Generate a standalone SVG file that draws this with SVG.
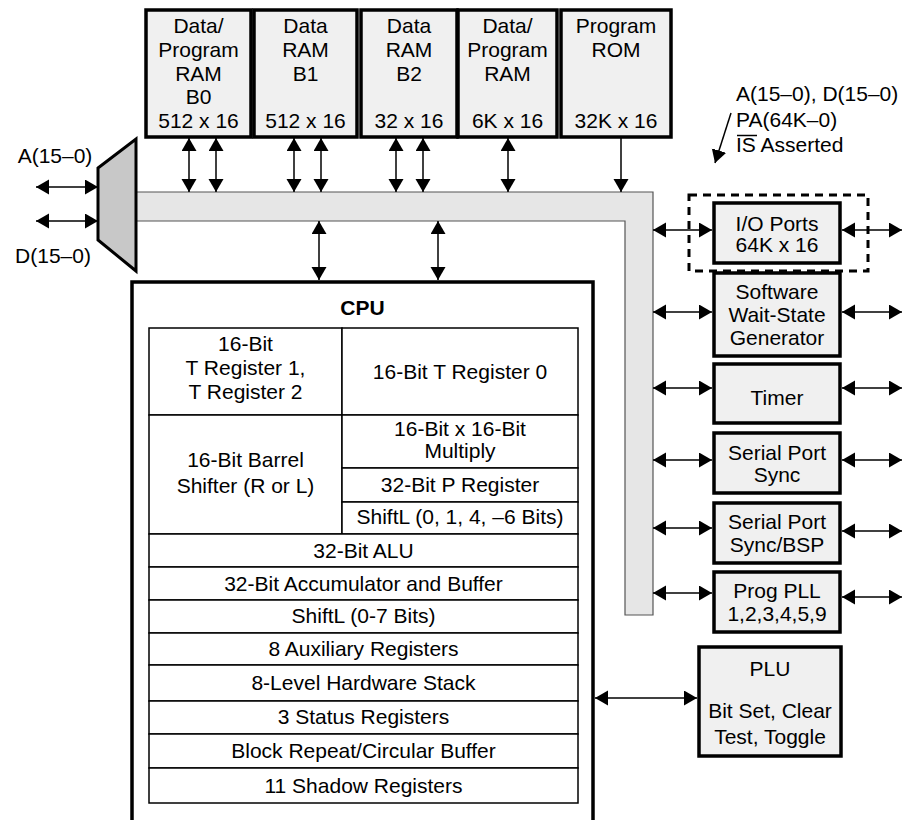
<svg xmlns="http://www.w3.org/2000/svg" width="907" height="820" viewBox="0 0 907 820">
<style>
text{font-family:"Liberation Sans",Arial,Helvetica,sans-serif;font-size:21px;fill:#000;text-anchor:middle}
.box{fill:#f0f0f0;stroke:#000;stroke-width:3.5}
.cell{fill:#fff;stroke:#000;stroke-width:1.5}
.ln{stroke:#000;stroke-width:1.5;fill:none}
.lt{text-anchor:start}
</style>
<defs>
<marker id="ah" markerUnits="userSpaceOnUse" markerWidth="16" markerHeight="16" refX="13" refY="7.5" orient="auto-start-reverse" viewBox="0 0 16 16">
<path d="M0,0 L13,7.5 L0,15 z" fill="#000"/>
</marker>
</defs>
<rect width="907" height="820" fill="#fff"/>

<g id="bus">
<path d="M136,192 L653,192 L653,615 L625,615 L625,221 L136,221" fill="#e6e6e6" stroke="#555" stroke-width="1.2"/>
</g>
<g id="mux">
<polygon points="98,168 136,139 136,271 98,240" fill="#c8c8c8" stroke="#000" stroke-width="3"/>
</g>
<g id="ext-labels">
<text x="55" y="163">A(15–0)</text>
<text x="53" y="263">D(15–0)</text>
</g>

<g id="ram-b0">
<rect class="box" x="146" y="10" width="105" height="127"/>
<text x="198.5" y="33">Data/</text><text x="198.5" y="57">Program</text><text x="198.5" y="81">RAM</text><text x="198.5" y="104">B0</text><text x="198.5" y="128">512 x 16</text>
</g>
<g id="ram-b1">
<rect class="box" x="254" y="10" width="103" height="127"/>
<text x="305.5" y="33">Data</text><text x="305.5" y="57">RAM</text><text x="305.5" y="81">B1</text><text x="305.5" y="128">512 x 16</text>
</g>
<g id="ram-b2">
<rect class="box" x="361" y="10" width="96" height="127"/>
<text x="409" y="33">Data</text><text x="409" y="57">RAM</text><text x="409" y="81">B2</text><text x="409" y="128">32 x 16</text>
</g>
<g id="ram-6k">
<rect class="box" x="458" y="10" width="99" height="127"/>
<text x="507.5" y="33">Data/</text><text x="507.5" y="57">Program</text><text x="507.5" y="81">RAM</text><text x="507.5" y="128">6K x 16</text>
</g>
<g id="rom">
<rect class="box" x="561" y="10" width="110" height="127"/>
<text x="616" y="33">Program</text><text x="616" y="57">ROM</text><text x="616" y="128">32K x 16</text>
</g>

<g id="annotation">
<text class="lt" x="736" y="101">A(15–0), D(15–0)</text>
<text class="lt" x="736" y="127">PA(64K–0)</text>
<text class="lt" x="736" y="152">IS Asserted</text>
<line x1="737" y1="135.5" x2="757" y2="135.5" stroke="#000" stroke-width="1.5"/>
</g>

<g id="io-ports">
<rect x="689" y="195" width="179" height="76" fill="none" stroke="#000" stroke-width="3" stroke-dasharray="8,6"/>
<rect class="box" x="714" y="203" width="126" height="60"/>
<text x="777" y="231">I/O Ports</text><text x="777" y="252">64K x 16</text>
</g>
<g id="wait-state">
<rect class="box" x="714" y="273" width="126" height="83"/>
<text x="777" y="299">Software</text><text x="777" y="322">Wait-State</text><text x="777" y="345">Generator</text>
</g>
<g id="timer">
<rect class="box" x="714" y="364" width="126" height="59"/>
<text x="777" y="405">Timer</text>
</g>
<g id="serial-sync">
<rect class="box" x="714" y="433" width="126" height="60"/>
<text x="777" y="460">Serial Port</text><text x="777" y="482">Sync</text>
</g>
<g id="serial-bsp">
<rect class="box" x="714" y="503" width="126" height="60"/>
<text x="777" y="529">Serial Port</text><text x="777" y="552">Sync/BSP</text>
</g>
<g id="pll">
<rect class="box" x="714" y="572" width="126" height="60"/>
<text x="777" y="598">Prog PLL</text><text x="777" y="621">1,2,3,4,5,9</text>
</g>
<g id="plu">
<rect class="box" x="699" y="647" width="142" height="109"/>
<text x="770" y="676">PLU</text><text x="770" y="718">Bit Set, Clear</text><text x="770" y="744">Test, Toggle</text>
</g>

<g id="cpu">
<rect x="132" y="282" width="461" height="560" fill="#fff" stroke="#000" stroke-width="3.5"/>
<text x="362.5" y="315" font-weight="bold">CPU</text>
<rect class="cell" x="149" y="328" width="193" height="87"/>
<rect class="cell" x="342" y="328" width="236" height="87"/>
<rect class="cell" x="149" y="415" width="193" height="119"/>
<rect class="cell" x="342" y="415" width="236" height="53"/>
<rect class="cell" x="342" y="468" width="236" height="34"/>
<rect class="cell" x="342" y="502" width="236" height="32"/>
<rect class="cell" x="149" y="534" width="429" height="33"/>
<rect class="cell" x="149" y="567" width="429" height="33"/>
<rect class="cell" x="149" y="600" width="429" height="33"/>
<rect class="cell" x="149" y="633" width="429" height="32"/>
<rect class="cell" x="149" y="665" width="429" height="36"/>
<rect class="cell" x="149" y="701" width="429" height="33"/>
<rect class="cell" x="149" y="734" width="429" height="34"/>
<rect class="cell" x="149" y="768" width="429" height="35"/>
<text x="245.5" y="351">16-Bit</text><text x="245.5" y="375">T Register 1,</text><text x="245.5" y="399">T Register 2</text>
<text x="460" y="379">16-Bit T Register 0</text>
<text x="245.5" y="467">16-Bit Barrel</text><text x="245.5" y="493">Shifter (R or L)</text>
<text x="460" y="436">16-Bit x 16-Bit</text><text x="460" y="458">Multiply</text>
<text x="460" y="492">32-Bit P Register</text>
<text x="460" y="524">ShiftL (0, 1, 4, –6 Bits)</text>
<text x="363.5" y="558">32-Bit ALU</text>
<text x="363.5" y="591">32-Bit Accumulator and Buffer</text>
<text x="363.5" y="623">ShiftL (0-7 Bits)</text>
<text x="363.5" y="656">8 Auxiliary Registers</text>
<text x="363.5" y="690">8-Level Hardware Stack</text>
<text x="363.5" y="724">3 Status Registers</text>
<text x="363.5" y="758">Block Repeat/Circular Buffer</text>
<text x="363.5" y="793">11 Shadow Registers</text>
</g>

<g id="connectors" class="ln">
<line class="ln" x1="36" y1="187" x2="98" y2="187" marker-start="url(#ah)" marker-end="url(#ah)"/>
<line class="ln" x1="36" y1="221" x2="98" y2="221" marker-start="url(#ah)" marker-end="url(#ah)"/>
<line class="ln" x1="189" y1="138" x2="189" y2="192" marker-start="url(#ah)" marker-end="url(#ah)"/>
<line class="ln" x1="216" y1="138" x2="216" y2="192" marker-start="url(#ah)" marker-end="url(#ah)"/>
<line class="ln" x1="294" y1="138" x2="294" y2="192" marker-start="url(#ah)" marker-end="url(#ah)"/>
<line class="ln" x1="321" y1="138" x2="321" y2="192" marker-start="url(#ah)" marker-end="url(#ah)"/>
<line class="ln" x1="396" y1="138" x2="396" y2="192" marker-start="url(#ah)" marker-end="url(#ah)"/>
<line class="ln" x1="423" y1="138" x2="423" y2="192" marker-start="url(#ah)" marker-end="url(#ah)"/>
<line class="ln" x1="508" y1="138" x2="508" y2="192" marker-start="url(#ah)" marker-end="url(#ah)"/>
<line class="ln" x1="621" y1="138" x2="621" y2="192" marker-end="url(#ah)"/>
<line class="ln" x1="319" y1="221" x2="319" y2="280" marker-start="url(#ah)" marker-end="url(#ah)"/>
<line class="ln" x1="438" y1="221" x2="438" y2="280" marker-start="url(#ah)" marker-end="url(#ah)"/>
<line class="ln" x1="653" y1="230" x2="712" y2="230" marker-start="url(#ah)" marker-end="url(#ah)"/>
<line class="ln" x1="842" y1="230" x2="902" y2="230" marker-start="url(#ah)" marker-end="url(#ah)"/>
<line class="ln" x1="653" y1="312" x2="712" y2="312" marker-start="url(#ah)" marker-end="url(#ah)"/>
<line class="ln" x1="842" y1="312" x2="902" y2="312" marker-start="url(#ah)" marker-end="url(#ah)"/>
<line class="ln" x1="653" y1="388" x2="712" y2="388" marker-start="url(#ah)" marker-end="url(#ah)"/>
<line class="ln" x1="842" y1="388" x2="902" y2="388" marker-start="url(#ah)" marker-end="url(#ah)"/>
<line class="ln" x1="653" y1="460" x2="712" y2="460" marker-start="url(#ah)" marker-end="url(#ah)"/>
<line class="ln" x1="842" y1="460" x2="902" y2="460" marker-start="url(#ah)" marker-end="url(#ah)"/>
<line class="ln" x1="653" y1="528" x2="712" y2="528" marker-start="url(#ah)" marker-end="url(#ah)"/>
<line class="ln" x1="842" y1="531" x2="902" y2="531" marker-start="url(#ah)" marker-end="url(#ah)"/>
<line class="ln" x1="653" y1="593" x2="712" y2="593" marker-start="url(#ah)" marker-end="url(#ah)"/>
<line class="ln" x1="842" y1="597" x2="902" y2="597" marker-start="url(#ah)" marker-end="url(#ah)"/>
<line class="ln" x1="595" y1="698" x2="697" y2="698" marker-start="url(#ah)" marker-end="url(#ah)"/>
<line class="ln" x1="731" y1="113" x2="715" y2="163" marker-end="url(#ah)"/>
</g>
</svg>
